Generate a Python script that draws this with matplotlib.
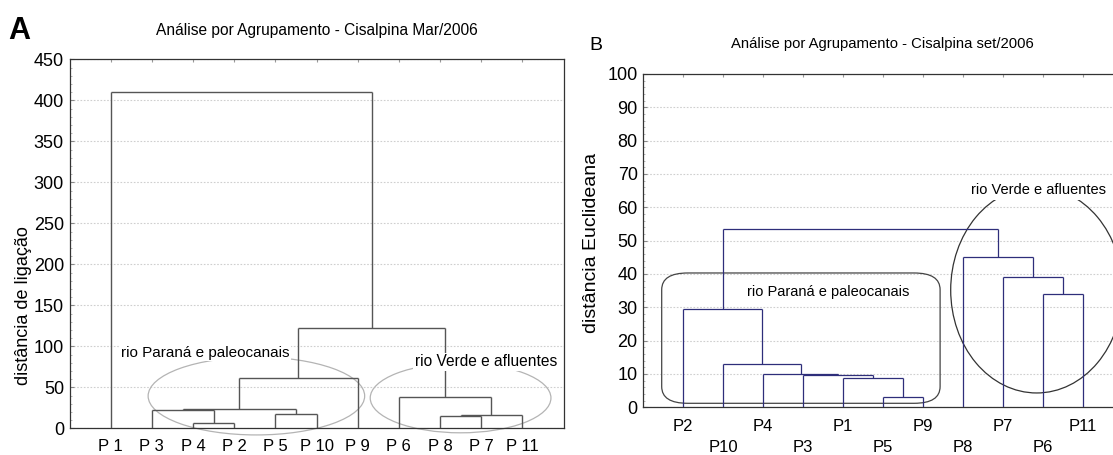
import matplotlib
matplotlib.use("Agg")
import matplotlib.pyplot as plt
from matplotlib.patches import Ellipse, FancyBboxPatch
from matplotlib.ticker import MultipleLocator, AutoMinorLocator

# ---- data -------------------------------------------------------------
# panel A: leaf order and merges (child, child, height); ints point to earlier merges
leaves_a = ['P 1', 'P 3', 'P 4', 'P 2', 'P 5', 'P 10', 'P 9', 'P 6', 'P 8', 'P 7', 'P 11']
merges_a = [
    ('P 4', 'P 2', 6.5),
    ('P 3', 0, 22.3),
    ('P 5', 'P 10', 17.0),
    (1, 2, 23.5),
    (3, 'P 9', 61.0),
    ('P 8', 'P 7', 15.4),
    (5, 'P 11', 16.6),
    ('P 6', 6, 37.8),
    (4, 7, 122.7),
    ('P 1', 8, 410.0),
]

# panel B
leaves_b = ['P2', 'P10', 'P4', 'P3', 'P1', 'P5', 'P9', 'P8', 'P7', 'P6', 'P11']
merges_b = [
    ('P5', 'P9', 3.2),
    ('P1', 0, 8.9),
    ('P3', 1, 9.7),
    ('P4', 2, 10.0),
    ('P10', 3, 13.1),
    ('P2', 4, 29.5),
    ('P6', 'P11', 33.9),
    ('P7', 6, 39.2),
    ('P8', 7, 45.2),
    (5, 8, 53.4),
]

title_a = 'Análise por Agrupamento - Cisalpina Mar/2006'
title_b = 'Análise por Agrupamento - Cisalpina set/2006'
ylab_a = 'distância de ligação'
ylab_b = 'distância Euclideana'
grp1 = 'rio Paraná e paleocanais'
grp2 = 'rio Verde e afluentes'

plt.rcParams['font.family'] = ['Liberation Sans', 'DejaVu Sans']


def draw_tree(ax, leaves, merges, color, lw):
    pos = {n: i + 1 for i, n in enumerate(leaves)}
    hgt = {n: 0.0 for n in leaves}
    for k, (a, b, h) in enumerate(merges):
        for c in (a, b):
            ax.plot([pos[c], pos[c]], [hgt[c], h], color=color, lw=lw,
                    solid_capstyle='butt', zorder=3)
        ax.plot([pos[a], pos[b]], [h, h], color=color, lw=lw,
                solid_capstyle='butt', zorder=3)
        pos[k] = (pos[a] + pos[b]) / 2.0
        hgt[k] = h


def style_axes(ax, ymax, ystep, leaves, xpad):
    ax.set_xlim(0, 12)
    ax.set_ylim(0, ymax)
    ax.yaxis.set_major_locator(MultipleLocator(ystep))
    ax.yaxis.set_minor_locator(AutoMinorLocator(5))
    ax.set_xticks(range(1, len(leaves) + 1))
    ax.grid(axis='y', color='#cfcfcf', ls=(0, (1.5, 1.5)), lw=0.8, zorder=0)
    ax.tick_params(axis='y', which='major', direction='in', length=3,
                   labelsize=13, pad=4, color='#888888')
    ax.tick_params(axis='y', which='minor', direction='in', length=1.5,
                   color='#aaaaaa')
    ax.tick_params(axis='x', which='both', direction='in', length=2,
                   top=True, bottom=False, color='#999999',
                   labelsize=12, pad=xpad)
    for s in ax.spines.values():
        s.set_linewidth(0.9)
        s.set_color('#333333')


W, H = 1113, 455
fig = plt.figure(figsize=(W / 100, H / 100), dpi=100)

# ---------------- panel A ----------------
axA = fig.add_axes([69.5 / W, 1 - 428.3 / H, 494.0 / W, 369.0 / H])
style_axes(axA, 450, 50, leaves_a, 7.5)
axA.set_xticklabels(leaves_a)
draw_tree(axA, leaves_a, merges_a, '#555555', 1.0)
axA.add_patch(Ellipse((4.54, 39.4), 5.26, 95, fill=False, ec='#b4b4b4',
                      lw=0.9, clip_on=False, zorder=2))
axA.add_patch(Ellipse((9.50, 37.0), 4.39, 85, fill=False, ec='#b4b4b4',
                      lw=0.9, clip_on=False, zorder=2))
axA.text(1.25, 92, grp1, fontsize=11, va='center', ha='left',
         zorder=4, bbox=dict(fc='white', ec='none', pad=1))
axA.text(8.39, 81, grp2, fontsize=11.2, va='center', ha='left',
         zorder=4, bbox=dict(fc='white', ec='none', pad=1))

fig.text(19.5 / W, 1 - 31 / H, 'A', fontsize=22, fontweight='bold',
         ha='center', va='center')
fig.text(316.5 / W, 1 - 30 / H, title_a, fontsize=11.2,
         ha='center', va='center')
fig.text(24 / W, 1 - 306 / H, ylab_a, fontsize=13, rotation=90,
         ha='center', va='center')

# ---------------- panel B ----------------
axB = fig.add_axes([643.3 / W, 1 - 407.3 / H, 480.0 / W, 333.3 / H])
style_axes(axB, 100, 10, leaves_b, 8.5)
axB.set_xticklabels([l if i % 2 == 0 else '\n' + l
                     for i, l in enumerate(leaves_b)], linespacing=1.45)
draw_tree(axB, leaves_b, merges_b, '#2e2e7a', 0.9)
axB.add_patch(FancyBboxPatch((0.46, 1.2), 6.96, 39.1,
                             boxstyle='round,pad=0,rounding_size=0.65',
                             mutation_aspect=7.7, fill=False, ec='#444444',
                             lw=0.9, zorder=2))
axB.add_patch(Ellipse((9.835, 35.2), 4.3, 61.8, fill=False, ec='#333333',
                      lw=0.9, clip_on=False, zorder=2))
axB.text(2.6, 34.7, grp1, fontsize=10.5, va='center', ha='left', zorder=4)
axB.text(8.2, 65.2, grp2, fontsize=10.5, va='center', ha='left',
         zorder=4, bbox=dict(fc='white', ec='none', pad=2))

fig.text(596 / W, 1 - 45 / H, 'B', fontsize=14,
         ha='center', va='center')
fig.text(882 / W, 1 - 44 / H, title_b, fontsize=10.7,
         ha='center', va='center')
fig.text(592 / W, 1 - 243 / H, ylab_b, fontsize=14, rotation=90,
         ha='center', va='center')

fig.savefig('out.png', dpi=100)
